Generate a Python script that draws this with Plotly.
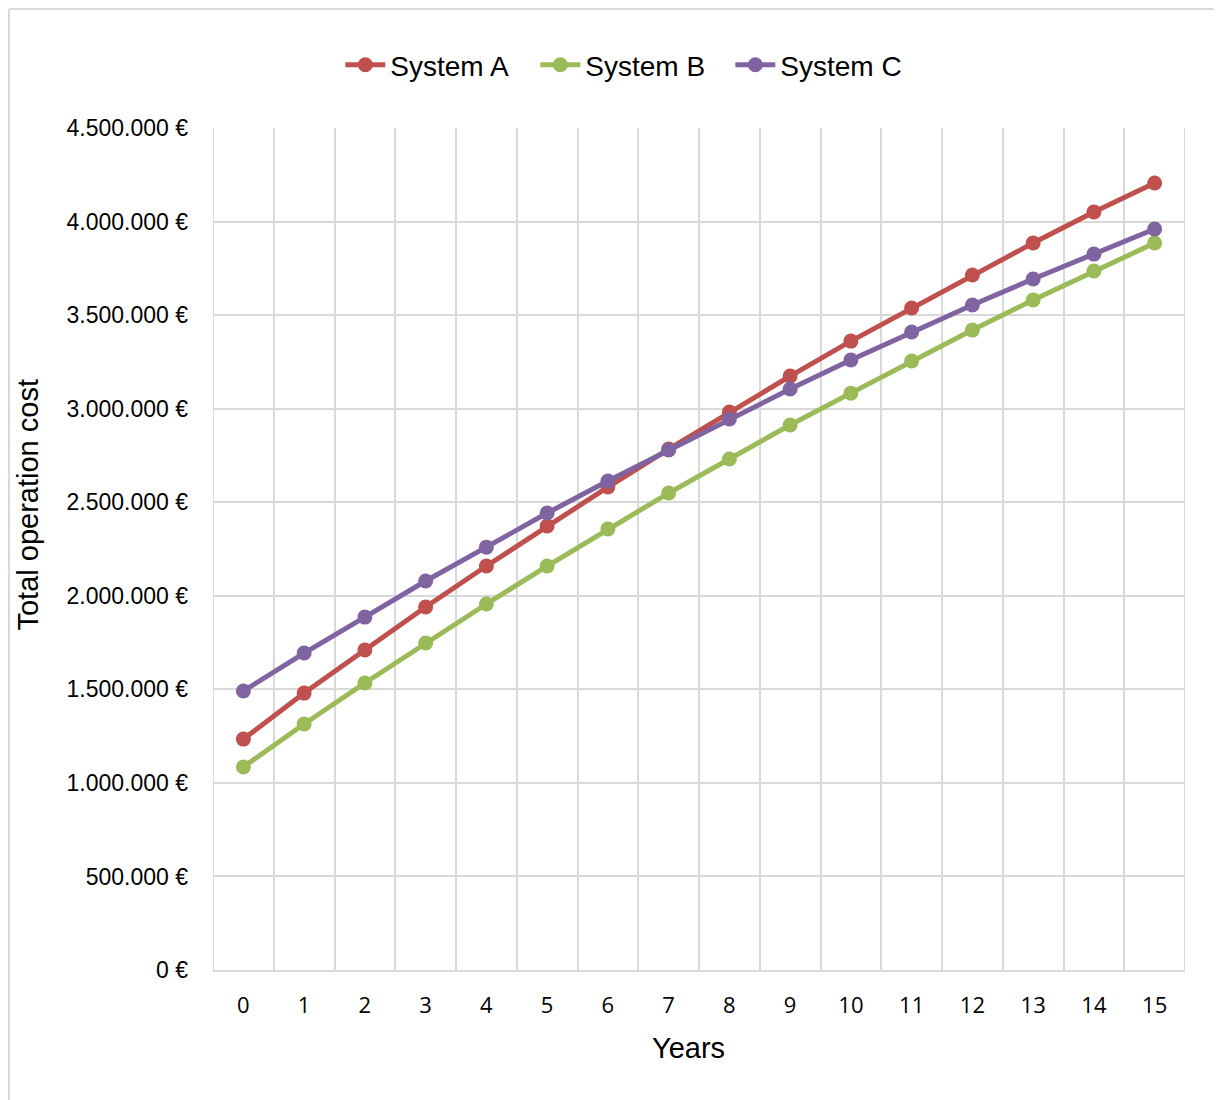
import plotly.graph_objects as go

years = list(range(16))
system_a = [1234000, 1480000, 1710000, 1940000, 2159000, 2373000, 2581000, 2784000,
            2982000, 3174000, 3361000, 3538000, 3714000, 3885000, 4051000, 4206000]
system_b = [1085000, 1315000, 1534000, 1748000, 1956000, 2159000, 2357000, 2549000,
            2731000, 2913000, 3083000, 3255000, 3420000, 3581000, 3736000, 3885000]
system_c = [1491000, 1694000, 1886000, 2079000, 2260000, 2442000, 2613000, 2779000,
            2945000, 3105000, 3260000, 3410000, 3554000, 3693000, 3826000, 3960000]
y_ticks = [0, 500000, 1000000, 1500000, 2000000, 2500000, 3000000, 3500000, 4000000, 4500000]
y_tick_labels = ["0 €", "500.000 €", "1.000.000 €", "1.500.000 €", "2.000.000 €",
                 "2.500.000 €", "3.000.000 €", "3.500.000 €", "4.000.000 €", "4.500.000 €"]

series = [("System A", system_a, "#C0504D"),
          ("System B", system_b, "#9BBB59"),
          ("System C", system_c, "#8064A2")]

fig = go.Figure()
for name, vals, col in series:
    fig.add_trace(go.Scatter(x=years, y=vals, name=name, mode="lines+markers",
                             line=dict(color=col, width=5),
                             marker=dict(color=col, size=15)))

grid = "#D9D9D9"
fig.update_layout(
    width=1214, height=1092,
    margin=dict(l=205, r=37, t=120, b=130),
    paper_bgcolor="white", plot_bgcolor="white",
    font=dict(family="Liberation Sans, Arial, sans-serif", color="black"),
    legend=dict(orientation="h", x=0.131, xanchor="left", y=1.0748, yanchor="middle",
                font=dict(size=28, family="Liberation Sans, Arial, sans-serif"),
                itemwidth=40, tracegroupgap=0, entrywidth=140, entrywidthmode="pixels"),
    xaxis=dict(range=[-0.5, 15.5], tickvals=years, ticktext=[str(v) for v in years],
               showgrid=False, zeroline=False, showline=True, linecolor=grid, linewidth=2,
               ticks="", tickfont=dict(family="Open Sans, sans-serif", size=22),
               ticklabelstandoff=15,
               minor=dict(tickvals=[v - 0.5 for v in years] + [15.5], showgrid=True,
                          gridcolor=grid, gridwidth=2, ticks="")),
    yaxis=dict(range=[0, 4500000], tickvals=y_ticks, ticktext=y_tick_labels,
               showgrid=True, gridcolor=grid, gridwidth=2, zeroline=False,
               showline=False, ticks="", ticklabelstandoff=24,
               tickfont=dict(family="Liberation Sans, Arial, sans-serif", size=23)),
    annotations=[
        dict(text="Years", xref="paper", yref="paper", x=0.4887, y=-0.0926,
             xanchor="center", yanchor="middle", showarrow=False,
             font=dict(size=29)),
        dict(text="Total operation cost", xref="paper", yref="paper", x=-0.190, y=0.552,
             xanchor="center", yanchor="middle", showarrow=False, textangle=-90,
             font=dict(size=29)),
    ],
)
fig.add_shape(type="line", xref="x", yref="paper", x0=15.5, x1=15.5, y0=0, y1=1,
              line=dict(color=grid, width=2), layer="below")
fig.add_shape(type="line", xref="x", yref="paper", x0=-0.5, x1=-0.5, y0=0, y1=1,
              line=dict(color=grid, width=2), layer="below")
# outer chart-area border (top and left edges visible in the reference)
fig.add_shape(type="line", xref="paper", yref="paper", x0=-0.2099, x1=1.04, y0=1.1413, y1=1.1413,
              line=dict(color="#D9D9D9", width=2))
fig.add_shape(type="line", xref="paper", yref="paper", x0=-0.2099, x1=-0.2099, y0=1.1413, y1=-0.16,
              line=dict(color="#D9D9D9", width=2))

fig.write_html("out.html")
